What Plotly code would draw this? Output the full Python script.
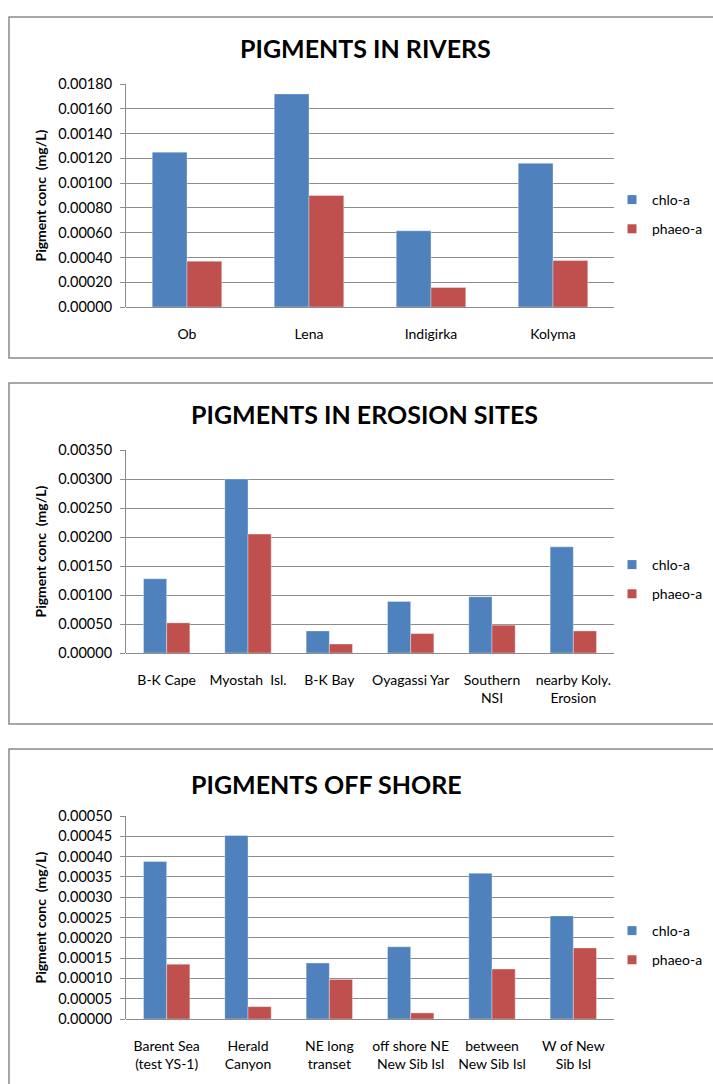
import plotly.graph_objects as go

# ---- data -------------------------------------------------------------
series_names = ["chlo-a", "phaeo-a"]

river_sites = ["Ob", "Lena", "Indigirka", "Kolyma"]
river_chlo = [0.00125, 0.00172, 0.000615, 0.00116]
river_phaeo = [0.00037, 0.00090, 0.000157, 0.000375]

erosion_sites = ["B-K Cape", "Myostah  Isl.", "B-K Bay", "Oyagassi Yar",
                 "Southern<br>NSI", "nearby Koly.<br>Erosion"]
erosion_chlo = [0.00128, 0.00300, 0.00038, 0.00089, 0.00097, 0.00183]
erosion_phaeo = [0.00052, 0.00205, 0.000155, 0.000335, 0.00048, 0.00038]

offshore_sites = ["Barent Sea<br>(test YS-1)", "Herald<br>Canyon", "NE long<br>transet",
                  "off shore NE<br>New Sib Isl", "between<br>New Sib Isl", "W of New<br>Sib Isl"]
offshore_chlo = [0.000388, 0.000452, 0.000138, 0.000178, 0.000359, 0.000254]
offshore_phaeo = [0.000135, 0.0000305, 0.0000975, 0.0000150, 0.000123, 0.000175]

titles = ["PIGMENTS IN RIVERS", "PIGMENTS IN EROSION SITES", "PIGMENTS OFF SHORE"]
y_title = "Pigment conc  (mg/L)"
y_max = [0.0018, 0.0035, 0.0005]
y_step = [0.0002, 0.0005, 0.00005]

# ---- layout helpers ---------------------------------------------------
W, H = 713, 1084
BLUE, RED = "#4F81BD", "#C0504D"
GRID = "#8C8C8C"
FONT = "Lato, 'Open Sans', sans-serif"


def px(x):
    return x / W


def py(y):
    return 1 - y / H


# plot areas (left, right, top, bottom) and frame boxes (top, bottom)
plot_x = (126, 614)
plot_y = [(84, 307), (450, 653), (816, 1019)]
frames = [(17, 358), (383, 724), (749, 1120)]
title_pos = [(365, 48), (364, 414), (326, 784)]
legend_top = [184, 549, 915]

panels = [
    (river_sites, river_chlo, river_phaeo),
    (erosion_sites, erosion_chlo, erosion_phaeo),
    (offshore_sites, offshore_chlo, offshore_phaeo),
]

fig = go.Figure()
shapes, annotations = [], []
layout = {}

for i, (sites, chlo, phaeo) in enumerate(panels):
    n = "" if i == 0 else str(i + 1)
    xa, ya = "x" + n, "y" + n
    lg = "legend" + n

    for name, vals, col in ((series_names[0], chlo, BLUE), (series_names[1], phaeo, RED)):
        fig.add_trace(go.Bar(
            x=sites, y=vals, name=name, xaxis=xa, yaxis=ya,
            marker=dict(color=col, line=dict(color="rgba(255,255,255,0.35)", width=1)),
            showlegend=False,
        ))
        # small square legend key for the series
        fig.add_trace(go.Scatter(
            x=[None], y=[None], name=name, xaxis=xa, yaxis=ya, mode="markers",
            marker=dict(symbol="square", size=9, color=col),
            legend=lg, legendgroup=name + n, showlegend=True,
        ))

    top, bot = plot_y[i]
    layout["xaxis" + n] = dict(
        domain=[px(plot_x[0]), px(plot_x[1])], anchor=ya, type="category",
        showline=False, ticks="", showgrid=False, automargin=False,
        tickfont=dict(family=FONT, size=14, color="#000"),
        ticklabelstandoff=17, fixedrange=True,
    )
    layout["yaxis" + n] = dict(
        domain=[py(bot), py(top)], anchor=xa, range=[0, y_max[i]],
        dtick=y_step[i], tick0=0, tickformat=".5f", automargin=False,
        showgrid=True, gridcolor=GRID, gridwidth=1,
        showline=True, linecolor=GRID, linewidth=1,
        ticks="outside", ticklen=5, tickcolor=GRID,
        zeroline=True, zerolinecolor=GRID, zerolinewidth=1,
        tickfont=dict(family=FONT, size=14.5, color="#000"),
        ticklabelstandoff=5, fixedrange=True,
    )
    layout[lg] = dict(
        x=px(612), y=py(legend_top[i]), xanchor="left", yanchor="top",
        bgcolor="rgba(0,0,0,0)", font=dict(family=FONT, size=14, color="#000"),
        tracegroupgap=8, itemwidth=30,
    )

    # chart frame
    f0, f1 = frames[i]
    shapes.append(dict(type="rect", xref="paper", yref="paper",
                       x0=px(9), x1=px(730), y0=py(f1), y1=py(f0),
                       line=dict(color="#8A8A8A", width=1.5), layer="below"))
    # chart title
    tx, ty = title_pos[i]
    annotations.append(dict(text="<b>" + titles[i] + "</b>", xref="paper", yref="paper",
                            x=px(tx), y=py(ty), xanchor="center", yanchor="middle",
                            showarrow=False, font=dict(family=FONT, size=25, color="#000")))
    # y-axis title
    annotations.append(dict(text="<b>" + y_title + "</b>", xref="paper", yref="paper",
                            x=px(40), y=py((top + bot) / 2), xanchor="center", yanchor="middle",
                            textangle=-90, showarrow=False,
                            font=dict(family=FONT, size=14, color="#000")))

fig.update_layout(
    width=W, height=H, margin=dict(l=0, r=0, t=0, b=0, autoexpand=False),
    paper_bgcolor="white", plot_bgcolor="white",
    barmode="group", bargap=0.43, bargroupgap=0,
    shapes=shapes, annotations=annotations, **layout,
)

fig.write_html("out.html", config={"displayModeBar": False})
